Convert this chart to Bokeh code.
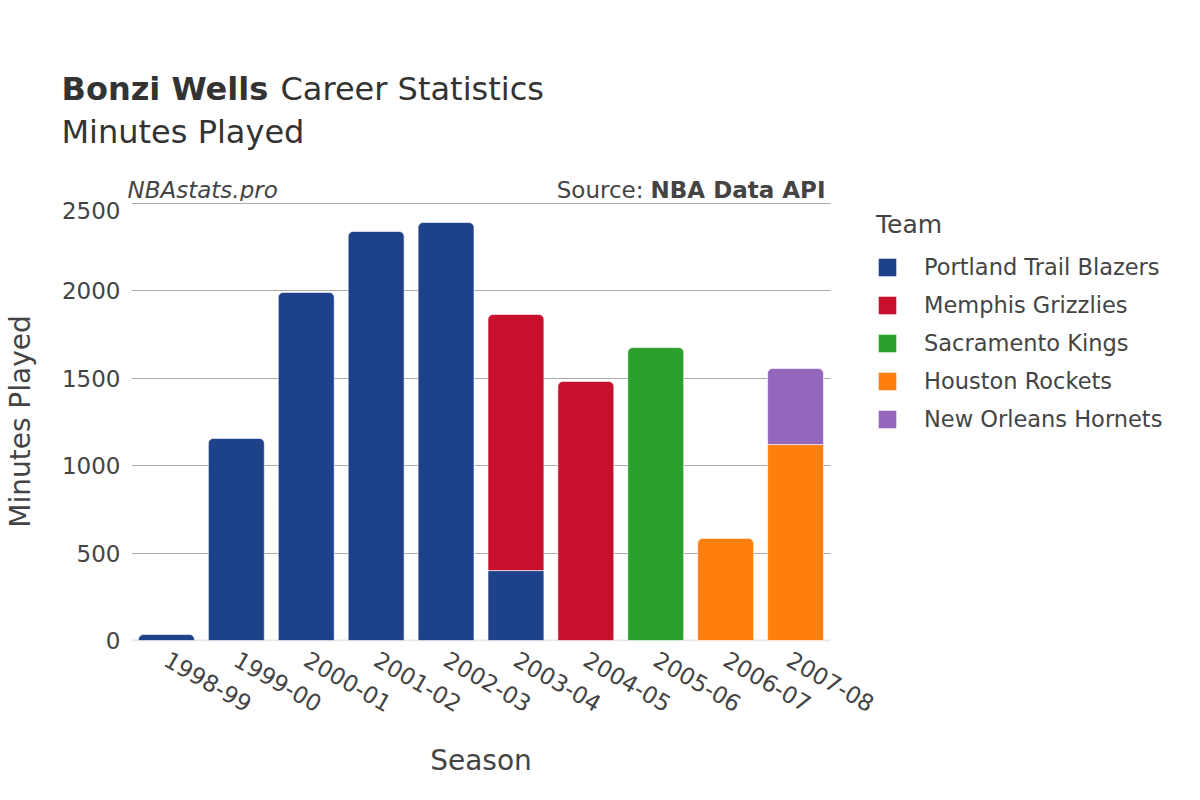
import numpy as np
from bokeh.plotting import figure
from bokeh.layouts import column, row
from bokeh.models import Range1d, FactorRange, Label, Legend, LegendItem, Span, FixedTicker
from bokeh.embed import file_html
from bokeh.resources import INLINE

seasons = ["1998-99", "1999-00", "2000-01", "2001-02", "2002-03",
           "2003-04", "2004-05", "2005-06", "2006-07", "2007-08"]
teams = ["Portland Trail Blazers", "Memphis Grizzlies", "Sacramento Kings",
         "Houston Rockets", "New Orleans Hornets"]
team_colors = ["#1d428a", "#c8102e", "#2ca02c", "#ff7f0e", "#9467bd"]
portland = [34, 1156, 1991, 2340, 2391, 400, 0, 0, 0, 0]
memphis = [0, 0, 0, 0, 0, 1465, 1482, 0, 0, 0]
sacramento = [0, 0, 0, 0, 0, 0, 0, 1676, 0, 0]
houston = [0, 0, 0, 0, 0, 0, 0, 0, 584, 1121]
hornets = [0, 0, 0, 0, 0, 0, 0, 0, 0, 435]
y_ticks = [0, 500, 1000, 1500, 2000, 2500]

series = [portland, memphis, sacramento, houston, hornets]
vals = np.array(series, dtype=float)
bottoms = np.vstack([np.zeros(len(seasons)), np.cumsum(vals, axis=0)[:-1]])

FONT = "DejaVu Sans"
TXT = "#444444"
TITLE = "#333333"


def blank_fig(w, h):
    f = figure(width=w, height=h, x_range=Range1d(0, w), y_range=Range1d(0, h),
               output_backend="svg", toolbar_location=None,
               min_border_left=0, min_border_right=0, min_border_top=0, min_border_bottom=0)
    f.axis.visible = False
    f.grid.grid_line_color = None
    f.outline_line_color = None
    return f


# ---------- title strip ----------
tf = blank_fig(1184, 201)
tf.add_layout(Label(x=61, y=113, text="Bonzi Wells", text_font=FONT, text_font_size="32px",
                    text_font_style="bold", text_color=TITLE, text_baseline="alphabetic"))
tf.add_layout(Label(x=280, y=113, text="Career Statistics", text_font=FONT, text_font_size="32px",
                    text_color=TITLE, text_baseline="alphabetic"))
tf.add_layout(Label(x=61, y=70, text="Minutes Played", text_font=FONT, text_font_size="32px",
                    text_color=TITLE, text_baseline="alphabetic"))
tf.add_layout(Label(x=127, y=12, text="NBAstats.pro", text_font=FONT, text_font_size="23px",
                    text_font_style="italic", text_color=TXT, text_baseline="alphabetic"))
tf.add_layout(Label(x=643, y=12, text="Source:", text_font=FONT, text_font_size="23px",
                    text_color=TXT, text_align="right", text_baseline="alphabetic"))
tf.add_layout(Label(x=825, y=12, text="NBA Data API", text_font=FONT, text_font_size="23px",
                    text_font_style="bold", text_color=TXT, text_align="right",
                    text_baseline="alphabetic"))

# ---------- main chart ----------
p = figure(x_range=FactorRange(*seasons, range_padding=0),
           y_range=Range1d(-5.7, 2511.4),
           width=876, height=583, output_backend="svg", toolbar_location=None,
           min_border_left=123, min_border_right=46, min_border_top=0,
           min_border_bottom=143)
p.outline_line_color = None
p.background_fill_color = "white"

p.xgrid.grid_line_color = None
p.ygrid.ticker = FixedTicker(ticks=y_ticks[1:])
p.ygrid.grid_line_color = "#aaaaaa"
p.ygrid.grid_line_width = 1
p.add_layout(Span(location=0, dimension="width", line_color="#e8e8e8", line_width=2,
                  level="underlay"))

for ti, (team, col) in enumerate(zip(teams, team_colors)):
    v = vals[ti]
    b = bottoms[ti]
    above = vals[ti + 1:].sum(axis=0) if ti + 1 < len(teams) else np.zeros(len(seasons))
    top_idx = [i for i in range(len(seasons)) if v[i] > 0 and above[i] == 0]
    mid_idx = [i for i in range(len(seasons)) if v[i] > 0 and above[i] > 0]
    if top_idx:
        p.vbar(x=[seasons[i] for i in top_idx], bottom=[b[i] for i in top_idx],
               top=[b[i] + v[i] for i in top_idx], width=0.8,
               fill_color=col, line_color="white", line_width=0.6,
               border_radius=(5, 5, 0, 0))
    if mid_idx:
        p.vbar(x=[seasons[i] for i in mid_idx], bottom=[b[i] for i in mid_idx],
               top=[b[i] + v[i] for i in mid_idx], width=0.8,
               fill_color=col, line_color="white", line_width=0.6)

p.yaxis.ticker = FixedTicker(ticks=y_ticks)
for ax in (p.xaxis[0], p.yaxis[0]):
    ax.axis_line_color = None
    ax.major_tick_line_color = None
    ax.minor_tick_line_color = None
    ax.major_label_text_font = FONT
    ax.major_label_text_font_size = "23px"
    ax.major_label_text_color = TXT
    ax.axis_label_text_font = FONT
    ax.axis_label_text_font_size = "28px"
    ax.axis_label_text_font_style = "normal"
    ax.axis_label_text_color = TXT

p.xaxis.axis_label = "Season"
p.yaxis.axis_label = "Minutes Played"
p.xaxis.major_label_orientation = -np.pi / 6
p.xaxis.major_label_standoff = 10
p.xaxis.axis_label_standoff = 21
p.yaxis.axis_label_standoff = 22

# ---------- legend strip ----------
lf = blank_fig(308, 583)
items = []
for team, col in zip(teams, team_colors):
    r = lf.vbar(x=[0], top=[0], bottom=[0], width=0, fill_color=col, line_color=None,
                border_radius=4)
    items.append(LegendItem(label=team, renderers=[r]))
legend = Legend(items=items, location=(0, 209), title="Team",
                title_text_font=FONT, title_text_font_size="25px", title_text_color=TXT,
                title_text_font_style="normal", title_standoff=15,
                label_text_font=FONT, label_text_font_size="22.5px", label_text_color=TXT,
                glyph_width=22, glyph_height=22, label_standoff=26, spacing=12,
                padding=0, margin=0, border_line_color=None, background_fill_alpha=0)
lf.add_layout(legend, "center")

layout = column(tf, row(p, lf, spacing=0), spacing=0)
open("out.html", "w").write(file_html(layout, INLINE))
